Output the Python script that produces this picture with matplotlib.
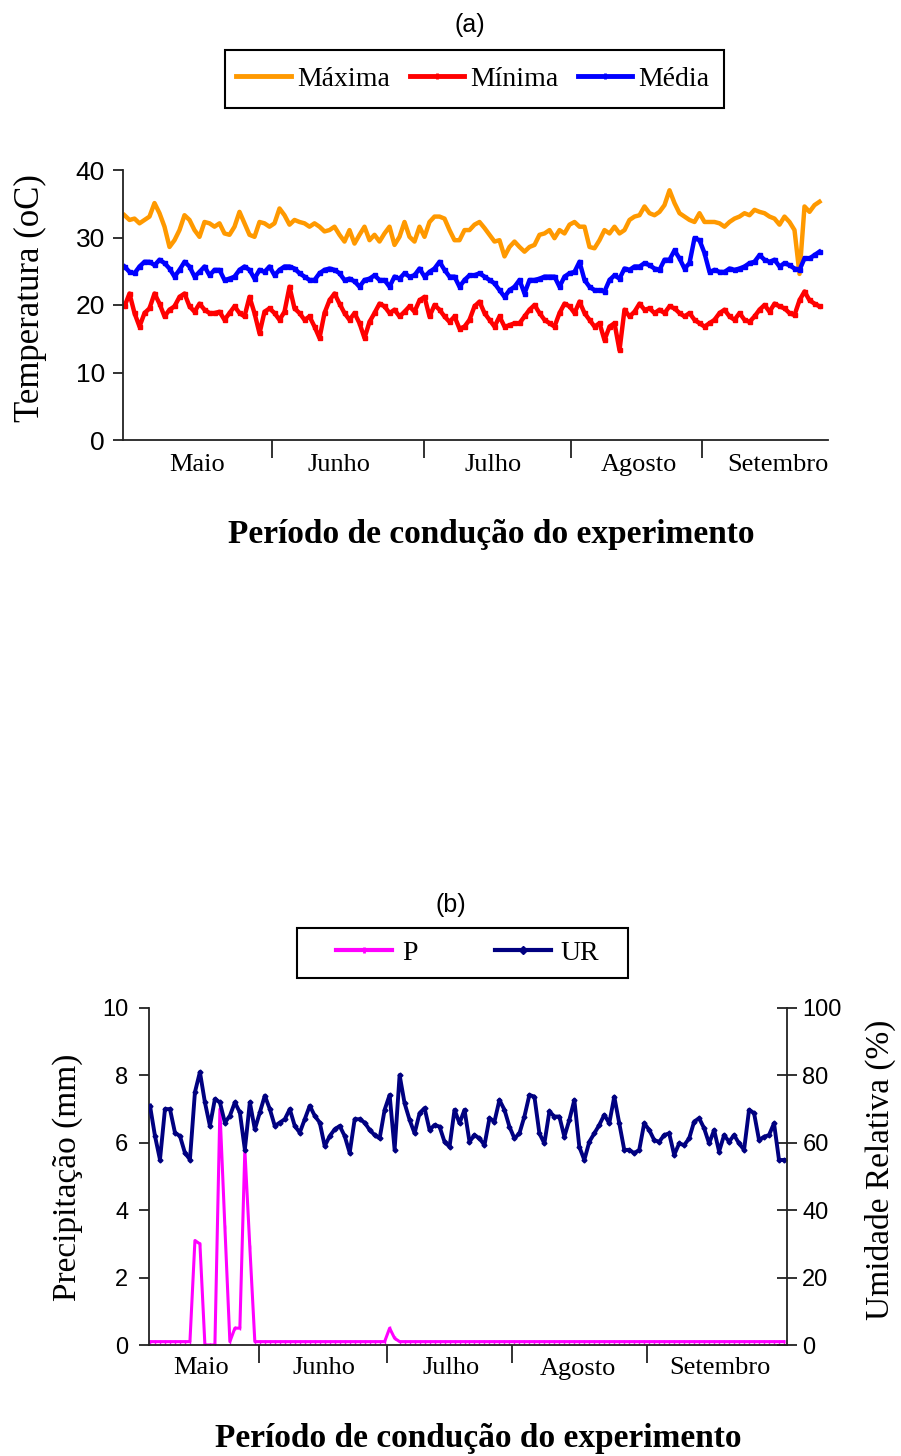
import numpy as np
import matplotlib
matplotlib.use('Agg')
import matplotlib.pyplot as plt
from matplotlib.lines import Line2D
from matplotlib.patches import Rectangle

SERIF = 'Liberation Serif'
SANS = 'Liberation Sans'

# ---- (a) temperatura diaria (oC) ----
maxima = [33.3, 32.6, 32.8, 32.1, 32.6, 33.1, 35.1, 33.6, 31.6, 28.6,
          29.6, 31.1, 33.3, 32.6, 31.1, 30.1, 32.3, 32.1, 31.6, 32.1,
          30.6, 30.4, 31.6, 33.8, 32.1, 30.4, 30.1, 32.3, 32.1, 31.6,
          32.1, 34.3, 33.3, 31.9, 32.6, 32.3, 32.1, 31.6, 32.1, 31.6,
          30.9, 31.1, 31.6, 30.4, 29.4, 31.1, 29.1,
          30.4, 31.6, 29.6, 30.4, 29.4, 30.6, 31.6, 28.9, 30.1, 32.3,
          30.1, 29.4, 31.6, 30.1, 32.3, 33.1, 33.1, 32.8, 31.1, 29.6,
          29.6, 31.1, 31.1, 31.9, 32.3, 31.4, 30.4, 29.4, 29.6, 27.2,
          28.6, 29.4, 28.6, 27.9, 28.6, 28.9, 30.4, 30.6, 31.1, 29.9,
          31.1, 30.6, 31.9, 32.3, 31.6, 31.6, 28.6, 28.4,
          29.6, 31.1, 30.6, 31.6, 30.6, 31.1, 32.6, 33.1, 33.3, 34.6,
          33.6, 33.3, 33.8, 34.8, 37.0, 35.1, 33.6, 33.1, 32.6, 32.3,
          33.6, 32.3, 32.3, 32.3, 32.1, 31.6, 32.3, 32.8, 33.1, 33.6,
          33.3, 34.1, 33.8, 33.6, 33.1, 32.8, 31.9, 33.1, 32.3, 31.1,
          24.6, 34.6, 33.8, 34.8, 35.3]

minima = [19.8, 21.7, 18.8, 16.8, 18.8, 19.5, 21.7, 20.2, 18.3, 19.3,
          19.8, 21.2, 21.7, 19.8, 19.0, 20.2, 19.3, 18.8, 18.8, 19.0,
          17.8, 18.8, 19.8, 18.8, 18.3, 21.2, 18.8, 15.8, 19.0, 19.5,
          18.8, 17.8, 19.0, 22.7, 19.5, 18.8, 17.8, 18.3, 16.8, 15.1,
          18.8, 20.7, 21.7, 20.2, 18.8, 17.8, 18.8,
          17.3, 15.1, 17.5, 18.8, 20.2, 19.8, 18.8, 19.3, 18.3, 19.0,
          19.8, 19.0, 20.7, 21.2, 18.3, 20.0, 19.3, 18.3, 17.5, 18.3,
          16.5, 16.8, 17.8, 19.8, 20.5, 18.8, 17.8, 16.8, 18.3, 16.8,
          17.0, 17.3, 17.3, 18.3, 19.3, 20.0, 18.8, 17.8, 17.3, 16.8,
          18.8, 20.2, 19.8, 18.8, 20.5, 18.8, 17.8, 16.8,
          17.3, 14.8, 16.8, 17.3, 13.3, 19.3, 18.3, 19.0, 20.2, 19.3,
          19.5, 18.8, 19.3, 18.8, 19.8, 19.5, 18.8, 18.3, 18.8, 17.8,
          17.3, 16.8, 17.3, 17.8, 18.8, 19.3, 18.3, 17.8, 18.8, 17.8,
          17.5, 18.3, 19.3, 20.0, 19.0, 20.2, 19.8, 19.5, 18.8, 18.5,
          20.7, 22.0, 20.7, 20.2, 19.8]

media = [25.7, 24.9, 24.7, 25.7, 26.4, 26.4, 25.9, 26.7, 26.2, 25.4,
         24.2, 25.2, 26.4, 25.7, 24.2, 24.9, 25.7, 24.4, 25.2, 25.2,
         23.7, 23.9, 24.2, 25.2, 25.7, 25.2, 23.9, 25.2, 24.9, 25.7,
         24.4, 25.2, 25.7, 25.7, 25.4, 24.7, 24.2, 23.7, 23.7, 24.7,
         25.2, 25.4, 25.2, 24.7, 23.7, 23.9, 23.5,
         22.7, 23.7, 23.9, 24.4, 23.7, 23.7, 22.7, 24.2, 23.9, 24.7,
         24.2, 24.4, 25.4, 24.2, 24.9, 25.4, 26.4, 25.2, 24.2, 24.2,
         22.7, 23.7, 24.4, 24.4, 24.7, 24.2, 23.7, 23.2, 22.2, 21.2,
         22.2, 22.7, 23.7, 21.7, 23.7, 23.7, 23.9, 24.2, 24.2, 24.2,
         22.7, 24.2, 24.7, 24.9, 26.4, 23.7, 22.7, 22.2,
         22.2, 22.0, 23.7, 24.4, 23.9, 25.4, 25.2, 25.7, 25.7, 26.2,
         25.9, 25.4, 25.2, 26.7, 26.7, 28.1, 26.9, 25.4, 26.2, 29.9,
         29.6, 27.7, 24.9, 25.2, 24.9, 24.9, 25.4, 25.2, 25.4, 25.7,
         26.2, 26.4, 27.4, 26.7, 26.4, 26.7, 25.7, 26.2, 25.9, 25.4,
         25.2, 26.9, 26.9, 27.4, 27.9]

meses = ['Maio', 'Junho', 'Julho', 'Agosto', 'Setembro']
limites_a = [29.4, 59.8, 89.2, 115.4]
centros_a = [14.6, 43.0, 73.8, 102.8, 130.6]

# ---- (b) precipitacao (mm) e umidade relativa (%) ----
ur = [71, 62, 55, 70, 70, 63, 62, 57, 55, 75, 81, 72, 65, 73, 72, 66,
      68, 72, 69, 58, 72, 64, 69, 74, 70, 65, 66, 67, 70, 65, 63, 67,
      71, 68, 66, 59, 62, 64, 65, 62, 57, 67, 67, 66,
      63.8, 62.3, 61.3, 69.8, 74.2, 58.0, 80.1, 71.7, 66.8, 62.8,
      68.8, 70.3, 63.8, 65.3, 64.8, 60.3, 58.8, 69.8, 65.8, 69.8,
      60.3, 62.3, 61.3, 59.3, 67.3, 66.3, 72.7, 69.8, 64.8, 61.3,
      62.8, 67.8, 74.2, 73.7, 62.8, 59.8, 69.3, 67.8, 67.8, 61.8,
      66.8, 72.7, 58.8,
      54.9, 60.3, 62.8, 65.3, 68.3, 65.8, 73.7, 65.8, 57.9, 57.9,
      56.9, 57.9, 65.8, 63.8, 60.8, 60.3, 62.3, 62.8, 56.4, 59.8,
      59.3, 61.3, 66.3, 67.3, 64.3, 59.8, 63.8, 57.4, 62.3, 60.3,
      62.3, 59.8, 57.9, 69.8, 68.8, 60.8, 61.8, 62.3, 65.8, 54.9,
      54.9]

precip = [0.1, 0.1, 0.1, 0.1, 0.1, 0.1, 0.1, 0.1, 0.1, 3.1, 3.0, 0.0, 0.0, 0.0, 7.0, 3.5,
          0.1, 0.5, 0.5, 5.8, 2.9, 0.1, 0.1, 0.1, 0.1, 0.1, 0.1, 0.1, 0.1, 0.1, 0.1, 0.1,
          0.1, 0.1, 0.1, 0.1, 0.1, 0.1, 0.1, 0.1, 0.1, 0.1, 0.1, 0.1, 0.1, 0.1, 0.1, 0.1,
          0.5, 0.2, 0.1, 0.1, 0.1, 0.1, 0.1, 0.1, 0.1, 0.1, 0.1, 0.1, 0.1, 0.1, 0.1, 0.1,
          0.1, 0.1, 0.1, 0.1, 0.1, 0.1, 0.1, 0.1, 0.1, 0.1, 0.1, 0.1, 0.1, 0.1, 0.1, 0.1,
          0.1, 0.1, 0.1, 0.1, 0.1, 0.1, 0.1, 0.1, 0.1, 0.1, 0.1, 0.1, 0.1, 0.1, 0.1, 0.1,
          0.1, 0.1, 0.1, 0.1, 0.1, 0.1, 0.1, 0.1, 0.1, 0.1, 0.1, 0.1, 0.1, 0.1, 0.1, 0.1,
          0.1, 0.1, 0.1, 0.1, 0.1, 0.1, 0.1, 0.1, 0.1, 0.1, 0.1, 0.1, 0.1, 0.1, 0.1, 0.1]

limites_b = [21.8, 47.4, 72.6, 99.6]
centros_b = [10.2, 34.8, 60.4, 85.8, 114.2]

C_MAX = '#FF9900'
C_MIN = '#FF0000'
C_MED = '#0000FF'
C_P = '#FF00FF'
C_UR = '#000080'
AX_C = '#222222'

W, H = 901, 1456
fig = plt.figure(figsize=(W / 100, H / 100), dpi=100)


def style_axes(ax, limites, centros, ypad, xpad):
    for s in ['top', 'right']:
        ax.spines[s].set_visible(False)
    for s in ['left', 'bottom']:
        ax.spines[s].set_color(AX_C)
        ax.spines[s].set_linewidth(1.3)
    ax.set_xticks(limites)
    ax.set_xticklabels([])
    ax.set_xticks(centros, minor=True)
    ax.set_xticklabels(meses, minor=True, fontfamily=SERIF, fontsize=19)
    ax.tick_params(axis='x', which='major', length=13, width=1.3, color=AX_C, direction='out')
    ax.tick_params(axis='x', which='minor', length=0, pad=xpad)
    ax.tick_params(axis='y', length=7, width=1.3, color=AX_C, pad=ypad, labelsize=17)
    for t in ax.get_yticklabels():
        t.set_fontfamily(SANS)


def caixa(x0, y0, x1, y1):
    # moldura da legenda, em pixels da figura
    fig.patches.append(Rectangle((x0 / W, 1 - y1 / H), (x1 - x0) / W, (y1 - y0) / H,
                                 transform=fig.transFigure, facecolor='white',
                                 edgecolor='black', lw=1.5, zorder=0))


# ---------------- painel (a) ----------------
ax1 = fig.add_axes([123 / W, 1 - 440 / H, 705 / W, 270 / H])
ax1.plot(np.arange(len(maxima)), maxima, color=C_MAX, lw=3.2)
ax1.plot(np.arange(len(minima)), minima, color=C_MIN, lw=3.2, marker='s', ms=2.5)
ax1.plot(np.arange(len(media)), media, color=C_MED, lw=3.2, marker='s', ms=2.5)
ax1.set_xlim(-0.3, 140.7)
ax1.set_ylim(0, 40)
ax1.set_yticks([0, 10, 20, 30, 40])
style_axes(ax1, limites_a, centros_a, 6, 10)
for t in ax1.get_yticklabels():
    t.set_fontsize(19)

fig.text(470 / W, 1 - 25 / H, '(a)', ha='center', va='center', fontfamily=SANS, fontsize=18)
fig.text(30 / W, 1 - 298 / H, 'Temperatura (oC)', rotation=90, ha='center', va='center',
         fontfamily=SERIF, fontsize=25)
fig.text(491 / W, 1 - 535 / H, 'Período de condução do experimento', ha='center', va='center',
         fontfamily=SERIF, fontsize=24, fontweight='bold')

caixa(225, 50, 724, 108)
h_a = [Line2D([], [], color=C_MAX, lw=3.5),
       Line2D([], [], color=C_MIN, lw=3.5, marker='|', ms=5, mew=2),
       Line2D([], [], color=C_MED, lw=3.5, marker='|', ms=5, mew=2)]
fig.legend(h_a, ['Máxima', 'Mínima', 'Média'], loc='center',
           bbox_to_anchor=(473 / W, 1 - 79 / H), ncol=3, frameon=False,
           prop={'family': SERIF, 'size': 20}, handlelength=1.95,
           handletextpad=0.22, columnspacing=0.72, borderpad=0.2)

# ---------------- painel (b) ----------------
ax2 = fig.add_axes([149 / W, 1 - 1345 / H, 638 / W, 337 / H])
ax3 = ax2.twinx()
ax2.plot(np.arange(len(precip)), precip, color=C_P, lw=2.2, marker='|', ms=3)
ax3.plot(np.arange(len(ur)), ur, color=C_UR, lw=2.8, marker='D', ms=2.5)
ax2.set_xlim(-0.2, 127.6)
ax2.set_ylim(0, 10)
ax3.set_ylim(0, 100)
ax2.set_yticks([0, 2, 4, 6, 8, 10])
ax3.set_yticks([0, 20, 40, 60, 80, 100])
style_axes(ax2, limites_b, centros_b, 8, 9)
ax3.spines['top'].set_visible(False)
ax3.spines['left'].set_visible(False)
ax3.spines['bottom'].set_visible(False)
ax3.spines['right'].set_color(AX_C)
ax3.spines['right'].set_linewidth(1.3)
ax3.tick_params(axis='y', direction='inout', length=14, width=1.3, color=AX_C, pad=4, labelsize=17)
for t in ax3.get_yticklabels():
    t.set_fontfamily(SANS)

fig.text(451 / W, 1 - 905 / H, '(b)', ha='center', va='center', fontfamily=SANS, fontsize=18)
fig.text(68 / W, 1 - 1177 / H, 'Precipitação (mm)', rotation=90, ha='center', va='center',
         fontfamily=SERIF, fontsize=24)
fig.text(880 / W, 1 - 1170 / H, 'Umidade Relativa (%)', rotation=90, ha='center', va='center',
         fontfamily=SERIF, fontsize=24)
fig.text(478 / W, 1 - 1438 / H, 'Período de condução do experimento', ha='center', va='center',
         fontfamily=SERIF, fontsize=24, fontweight='bold')

caixa(297, 928, 628, 978)
h_b = [Line2D([], [], color=C_P, lw=3, marker='|', ms=4, mew=2),
       Line2D([], [], color=C_UR, lw=3, marker='D', ms=4)]
fig.legend(h_b, ['P', 'UR'], loc='center',
           bbox_to_anchor=(468 / W, 1 - 953 / H), ncol=2, frameon=False,
           prop={'family': SERIF, 'size': 20}, handlelength=2.0,
           handletextpad=0.36, columnspacing=2.8, borderpad=0.2)

fig.savefig('out.png', dpi=100)
